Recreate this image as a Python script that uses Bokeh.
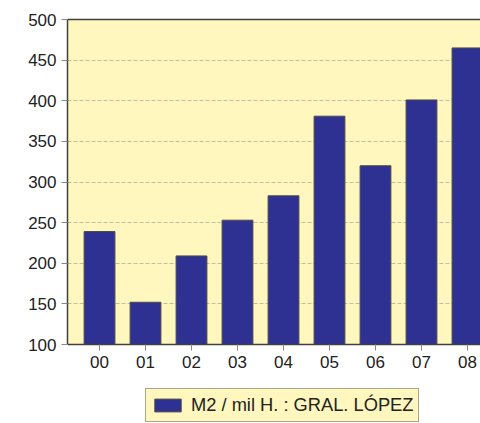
from bokeh.plotting import figure
from bokeh.models import ColumnDataSource, FixedTicker, LinearAxis, Range1d, Legend, LegendItem, BoxAnnotation
from bokeh.embed import file_html
from bokeh.resources import INLINE

years = ["00", "01", "02", "03", "04", "05", "06", "07", "08"]
values = [239, 152, 209, 253, 283, 381, 320, 401, 465]
series_name = "M2 / mil H. : GRAL. LÓPEZ"
y_ticks = [100, 150, 200, 250, 300, 350, 400, 450, 500]
y_min, y_max = 100, 500

BG = "#FFF7BE"
BAR = "#2E3192"
FONT = "Liberation Sans"

xs = list(range(len(years)))
src = ColumnDataSource(dict(x=xs, top=values))

p = figure(width=480, height=423, output_backend="svg", toolbar_location=None,
           x_range=Range1d(-0.696, 8.283), y_range=Range1d(2.77, y_max),
           min_border_left=67, min_border_right=0, min_border_top=19, min_border_bottom=0)
p.background_fill_color = "white"
p.border_fill_color = "white"
p.outline_line_color = None

p.add_layout(BoxAnnotation(bottom=y_min, fill_color=BG, fill_alpha=1, line_color=None, level="image"))

r = p.vbar(x="x", top="top", bottom=y_min, width=0.67, source=src,
           fill_color=BAR, line_color="#4a4a4a", line_width=1)

p.xgrid.grid_line_color = None
p.ygrid.grid_line_color = "#C2BDA5"
p.ygrid.grid_line_dash = "4 2"
p.ygrid.grid_line_width = 1
p.ygrid.ticker = FixedTicker(ticks=y_ticks[1:])

for ax in (p.xaxis[0], p.yaxis[0]):
    ax.axis_line_color = "#404040"
    ax.axis_line_width = 1.5
    ax.major_tick_line_color = "#888888"
    ax.major_tick_in = 0
    ax.major_tick_out = 6
    ax.minor_tick_line_color = None
    ax.major_label_text_font = FONT
    ax.major_label_text_font_size = "17px"
    ax.major_label_text_color = "#222222"

p.yaxis[0].ticker = FixedTicker(ticks=y_ticks)
p.yaxis[0].bounds = (y_min, y_max)
p.xaxis[0].ticker = FixedTicker(ticks=xs)
p.xaxis[0].major_label_overrides = {i: y for i, y in enumerate(years)}
p.xaxis[0].fixed_location = y_min

top_axis = LinearAxis(axis_line_color="#404040", axis_line_width=1.5,
                      ticker=FixedTicker(ticks=[]),
                      major_tick_line_color=None, minor_tick_line_color=None,
                      major_tick_out=0, major_tick_in=0)
p.add_layout(top_axis, "above")

legend = Legend(items=[LegendItem(label=series_name, renderers=[r])],
                location=(78, 1), orientation="horizontal",
                background_fill_color=BG, background_fill_alpha=1,
                border_line_color="#555555", border_line_width=1,
                label_text_font=FONT, label_text_font_size="18.3px", label_text_color="#222222",
                glyph_width=33, glyph_height=16, label_standoff=7, padding=5, margin=0,
                label_height=16, spacing=0)
p.add_layout(legend, "center")

open("out.html", "w").write(file_html(p, INLINE))
